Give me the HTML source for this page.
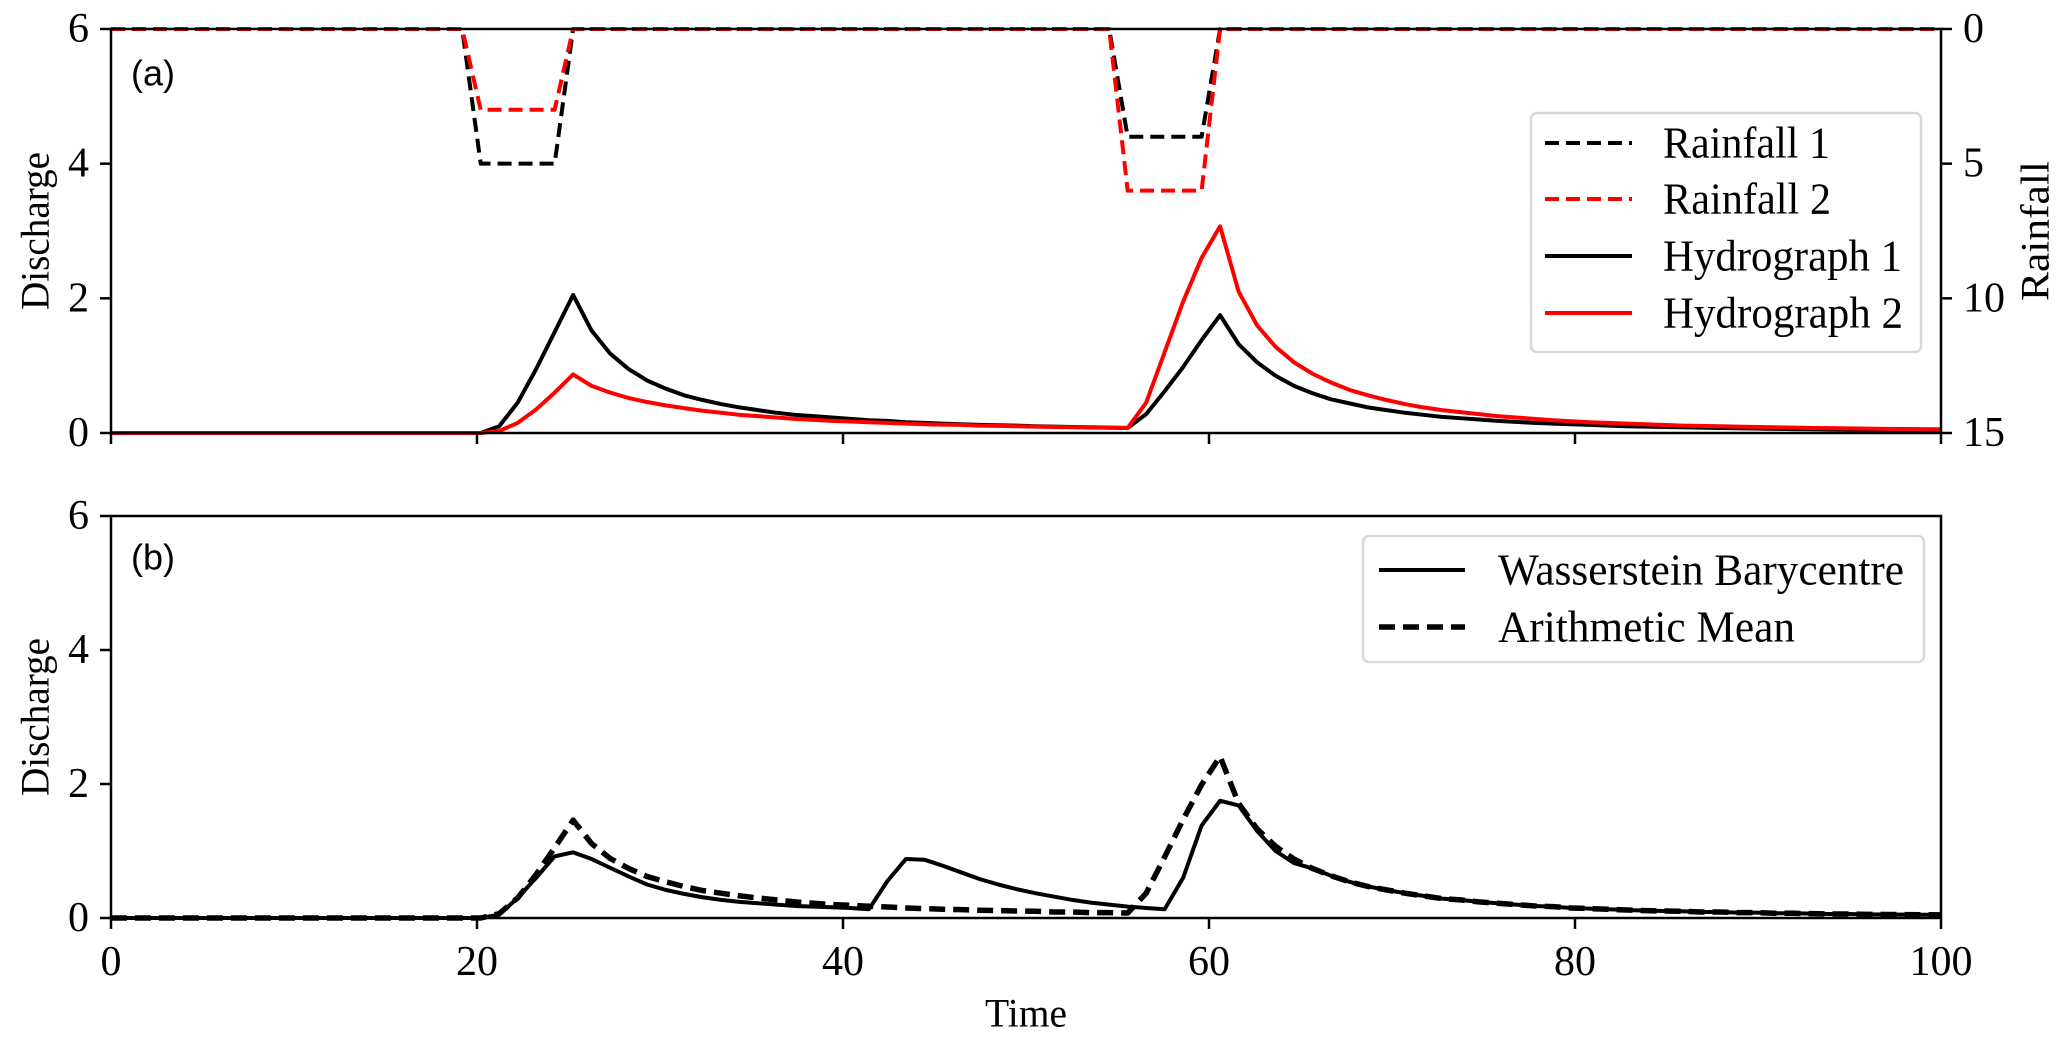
<!DOCTYPE html>
<html><head><meta charset="utf-8"><style>
html,body{margin:0;padding:0;background:#fff;}
svg{display:block;}
text{font-family:"Liberation Serif",serif;fill:#000;}
</style></head><body>
<svg id="chart" width="2067" height="1041" viewBox="0 0 2067 1041" xmlns="http://www.w3.org/2000/svg">
<g id="plotA"></g>
<g id="plotB"></g>
</svg>
<script>
const rain1 = [0,0,0,0,0,0,0,0,0,0, 0,0,0,0,0,0,0,0,0,0, 5,5,5,5,5,0,0,0,0,0, 0,0,0,0,0,0,0,0,0,0, 0,0,0,0,0,0,0,0,0,0, 0,0,0,0,0,4,4,4,4,4, 0,0,0,0,0,0,0,0,0,0, 0,0,0,0,0,0,0,0,0,0, 0,0,0,0,0,0,0,0,0,0, 0,0,0,0,0,0,0,0,0,0];
const rain2 = [0,0,0,0,0,0,0,0,0,0, 0,0,0,0,0,0,0,0,0,0, 3,3,3,3,3,0,0,0,0,0, 0,0,0,0,0,0,0,0,0,0, 0,0,0,0,0,0,0,0,0,0, 0,0,0,0,0,6,6,6,6,6, 0,0,0,0,0,0,0,0,0,0, 0,0,0,0,0,0,0,0,0,0, 0,0,0,0,0,0,0,0,0,0, 0,0,0,0,0,0,0,0,0,0];
const hydro1 = [0,0,0,0,0,0,0,0,0,0, 0,0,0,0,0,0,0,0,0,0,
 0,0.1,0.45,0.95,1.5,2.05,1.52,1.18,0.95,0.78,
 0.66,0.56,0.49,0.43,0.38,0.34,0.3,0.27,0.25,0.23,
 0.21,0.19,0.18,0.16,0.15,0.14,0.13,0.12,0.115,0.11,
 0.1,0.095,0.09,0.085,0.08,0.075,0.28,0.62,0.98,1.38,
 1.75,1.32,1.05,0.85,0.7,0.59,0.5,0.44,0.38,0.34,
 0.3,0.27,0.24,0.22,0.2,0.18,0.165,0.15,0.14,0.13,
 0.12,0.11,0.1,0.095,0.09,0.085,0.08,0.075,0.07,0.066,
 0.062,0.058,0.055,0.052,0.049,0.046,0.044,0.042,0.04,0.038];
const hydro2 = [0,0,0,0,0,0,0,0,0,0, 0,0,0,0,0,0,0,0,0,0,
 0,0.03,0.15,0.35,0.6,0.87,0.7,0.6,0.52,0.46,
 0.41,0.37,0.33,0.3,0.27,0.25,0.23,0.21,0.195,0.18,
 0.17,0.16,0.15,0.14,0.13,0.125,0.12,0.11,0.105,0.1,
 0.095,0.09,0.085,0.08,0.078,0.075,0.45,1.2,1.95,2.6,
 3.07,2.1,1.6,1.28,1.05,0.88,0.75,0.64,0.56,0.49,
 0.43,0.38,0.34,0.31,0.28,0.25,0.23,0.21,0.19,0.175,
 0.16,0.15,0.14,0.13,0.12,0.11,0.105,0.1,0.095,0.09,
 0.085,0.08,0.075,0.072,0.068,0.065,0.062,0.06,0.057,0.055];
const meanSeries = [0,0,0,0,0,0,0,0,0,0, 0,0,0,0,0,0,0,0,0,0,
 0,0.065,0.3,0.65,1.05,1.46,1.11,0.89,0.74,0.62,
 0.54,0.47,0.41,0.37,0.33,0.3,0.27,0.24,0.22,0.2,
 0.19,0.175,0.165,0.15,0.14,0.13,0.125,0.115,0.11,0.105,
 0.1,0.09,0.09,0.08,0.08,0.075,0.37,0.91,1.47,1.99,
 2.41,1.71,1.33,1.07,0.88,0.74,0.63,0.54,0.47,0.42,
 0.37,0.33,0.29,0.27,0.24,0.22,0.2,0.18,0.17,0.15,
 0.14,0.13,0.12,0.11,0.105,0.1,0.09,0.09,0.08,0.08,
 0.07,0.07,0.065,0.06,0.06,0.055,0.053,0.051,0.049,0.047];
const barySeries = [0,0,0,0,0,0,0,0,0,0, 0,0,0,0,0,0,0,0,0,0,
 0,0.05,0.3,0.6,0.92,0.98,0.88,0.75,0.62,0.5,
 0.42,0.36,0.31,0.27,0.24,0.22,0.2,0.18,0.17,0.16,
 0.15,0.13,0.55,0.88,0.87,0.78,0.68,0.58,0.5,0.43,
 0.37,0.32,0.27,0.23,0.2,0.17,0.15,0.13,0.6,1.38,
 1.75,1.68,1.3,1.0,0.82,0.74,0.63,0.54,0.47,0.42,
 0.37,0.33,0.29,0.27,0.24,0.22,0.2,0.18,0.17,0.15,
 0.14,0.13,0.12,0.11,0.105,0.1,0.09,0.09,0.08,0.08,
 0.07,0.07,0.065,0.06,0.06,0.055,0.053,0.051,0.049,0.047];
const xTicks = [0,20,40,60,80,100];
const xTickLabels = ["0","20","40","60","80","100"];
const yTicks = [0,2,4,6];
const yTickLabels = ["0","2","4","6"];
const rainTicks = [0,5,10,15];
const rainTickLabels = ["0","5","10","15"];

const NS="http://www.w3.org/2000/svg";
const X0=111, X1=1941;
const A={top:29,bot:433}, B={top:516,bot:918};
const tAt = i => i*100/99;
const xs = t => X0 + (t/100)*(X1-X0);
const ysA = v => A.bot - (v/6)*(A.bot-A.top);
const ysB = v => B.bot - (v/6)*(B.bot-B.top);
const ysR = v => A.top + (v/15)*(A.bot-A.top);

function mk(tag, attrs, parent){
  const e=document.createElementNS(NS,tag);
  for(const k in attrs) e.setAttribute(k,attrs[k]);
  parent.appendChild(e); return e;
}
function line(vals, ys, parent, stroke, w, dash, name){
  let d='';
  vals.forEach((v,i)=>{ d += (i?'L':'M')+xs(tAt(i)).toFixed(2)+','+ys(v).toFixed(2); });
  const p=mk('path',{d:d,fill:'none',stroke:stroke,'stroke-width':w,'stroke-linejoin':'round'},parent);
  if(dash) p.setAttribute('stroke-dasharray',dash);
  
  
  return p;
}
function txt(s,x,y,parent,size,anchor,name,extra){
  const t=mk('text',{x:x,y:y,'font-size':size,'text-anchor':anchor||'middle','dominant-baseline':'central'},parent);
  t.textContent=s;
  if(extra) for(const k in extra) t.setAttribute(k,extra[k]);
  
  
  return t;
}
function axes(g, P, ys, showXLabels, name){
  yTicks.forEach((v,i)=>{
    const y=ys(v);
    const tk=mk('line',{x1:X0-11,x2:X0,y1:y,y2:y,stroke:'#000','stroke-width':2.5},g);
    
    
    txt(yTickLabels[i], X0-22, y, g, 42, 'end', name+'-ytick-label');
  });
  xTicks.forEach((v,i)=>{
    const x=xs(v);
    const tk=mk('line',{x1:x,x2:x,y1:P.bot,y2:P.bot+11,stroke:'#000','stroke-width':2.5},g);
    
    
    if(showXLabels) txt(xTickLabels[i], x, P.bot+44, g, 42, 'middle', 'x-tick-label');
  });
  const fr=mk('rect',{x:X0,y:P.top,width:X1-X0,height:P.bot-P.top,fill:'none',stroke:'#000','stroke-width':2.5},g);
  
  
  txt('Discharge', 35, (P.top+P.bot)/2, g, 40, 'middle', name+'-y-axis-title', {transform:'rotate(-90 35 '+((P.top+P.bot)/2)+')', textLength:158, lengthAdjust:'spacingAndGlyphs'});
}

const gA=document.getElementById('plotA');
const gB=document.getElementById('plotB');

// Panel A
line(rain1, ysR, gA, '#000', 4, '14,7', 'rainfall-1-line');
line(rain2, ysR, gA, '#ff0000', 4, '14,7', 'rainfall-2-line');
line(hydro1, ysA, gA, '#000', 4, null, 'hydrograph-1-line');
line(hydro2, ysA, gA, '#ff0000', 4, null, 'hydrograph-2-line');
axes(gA, A, ysA, false, 'panel-a');
rainTicks.forEach((v,i)=>{
  const y=ysR(v);
  const tk=mk('line',{x1:X1,x2:X1+11,y1:y,y2:y,stroke:'#000','stroke-width':2.5},gA);
  
  
  txt(rainTickLabels[i], X1+22, y, gA, 42, 'start', 'rainfall-tick-label');
});
txt('Rainfall', 2035, (A.top+A.bot)/2, gA, 40, 'middle', 'rainfall-axis-title', {transform:'rotate(-90 2035 '+((A.top+A.bot)/2)+')', textLength:140, lengthAdjust:'spacingAndGlyphs'});
const la=mk('text',{x:131,y:73,'font-size':36,'dominant-baseline':'central',style:'font-family:"Liberation Sans",sans-serif'},gA);
la.textContent='(a)';



// Legend A
const legA=mk('g',{},gA);


const lbA=mk('rect',{x:1531,y:113,width:390,height:239,rx:6,fill:'#fff','fill-opacity':0.8,stroke:'#d9d9d9','stroke-width':2.5},legA);


const entriesA=[['Rainfall 1','#000','14,7',143,167],['Rainfall 2','#ff0000','14,7',199,168],['Hydrograph 1','#000',null,256,239],['Hydrograph 2','#ff0000',null,313,240]];
entriesA.forEach(e=>{
  const l=mk('line',{x1:1545,x2:1632,y1:e[3],y2:e[3],stroke:e[1],'stroke-width':4},legA);
  if(e[2]) l.setAttribute('stroke-dasharray',e[2]);
  
  
  txt(e[0], 1663, e[3], legA, 44, 'start', 'legend-a-entry', {textLength:e[4], lengthAdjust:'spacingAndGlyphs'});
});

// Panel B
line(barySeries, ysB, gB, '#000', 4, null, 'wasserstein-barycentre-line');
line(meanSeries, ysB, gB, '#000', 5.5, '16,8', 'arithmetic-mean-line');
axes(gB, B, ysB, true, 'panel-b');
txt('Time', (X0+X1)/2, 1013, gB, 40, 'middle', 'x-axis-title', {textLength:82, lengthAdjust:'spacingAndGlyphs'});
const lb=mk('text',{x:131,y:557,'font-size':36,'dominant-baseline':'central',style:'font-family:"Liberation Sans",sans-serif'},gB);
lb.textContent='(b)';


const legB=mk('g',{},gB);


const lbB=mk('rect',{x:1363,y:536,width:561,height:126,rx:6,fill:'#fff','fill-opacity':0.8,stroke:'#d9d9d9','stroke-width':2.5},legB);


const entriesB=[['Wasserstein Barycentre',null,4,570,406],['Arithmetic Mean','16,8',5.5,627,297]];
entriesB.forEach(e=>{
  const l=mk('line',{x1:1379,x2:1465,y1:e[3],y2:e[3],stroke:'#000','stroke-width':e[2]},legB);
  if(e[1]) l.setAttribute('stroke-dasharray',e[1]);
  
  
  txt(e[0], 1498, e[3], legB, 44, 'start', 'legend-b-entry', {textLength:e[4], lengthAdjust:'spacingAndGlyphs'});
});
</script>
</body></html>
